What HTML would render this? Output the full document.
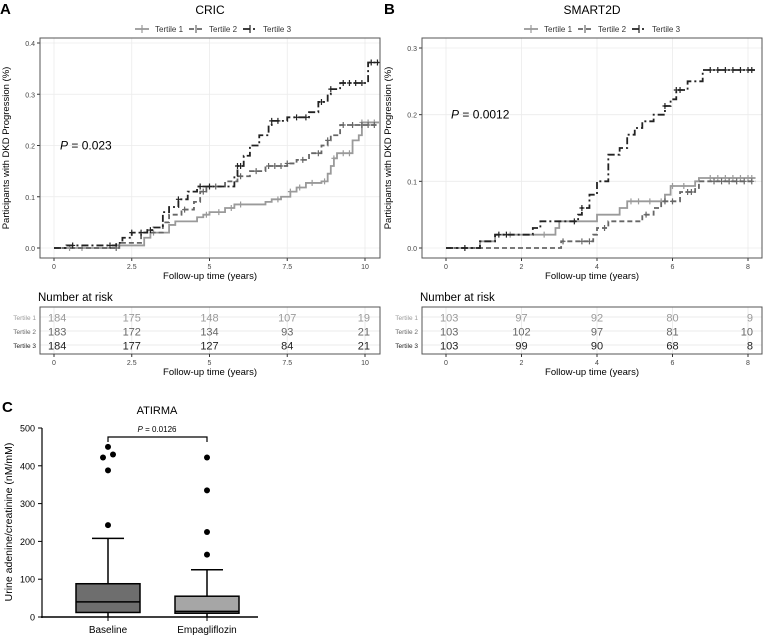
<!DOCTYPE html>
<html><head><meta charset="utf-8">
<style>
body{margin:0;background:#fff;width:768px;height:639px;overflow:hidden;font-family:"Liberation Sans",sans-serif}
svg text{font-family:"Liberation Sans",sans-serif}
</style></head>
<body>
<svg id="fig" width="768" height="639" viewBox="0 0 768 639" xmlns="http://www.w3.org/2000/svg"></svg>
<script>
// ---------- Data ----------
const cricT1x=[0,2.0,2.9,3.1,3.7,3.9,4.6,4.8,5.0,5.5,5.8,6.8,7.0,7.3,7.6,7.8,8.1,8.6,8.8,8.9,9.0,9.1,9.6,9.8,9.9,10.45];
const cricT1y=[0,0.005,0.02,0.03,0.045,0.052,0.06,0.065,0.07,0.078,0.085,0.09,0.095,0.1,0.11,0.118,0.127,0.13,0.145,0.16,0.175,0.185,0.21,0.22,0.245,0.245];
const cricT2x=[0,2.1,2.8,3.5,3.7,4.1,4.5,4.7,4.9,5.5,5.9,6.3,6.8,7.5,7.8,8.2,8.6,8.8,8.9,9.2,10.45];
const cricT2y=[0,0.01,0.03,0.05,0.065,0.075,0.09,0.11,0.12,0.13,0.14,0.15,0.16,0.165,0.172,0.185,0.2,0.21,0.22,0.24,0.24];
const cricT3x=[0,0.4,2.0,2.2,2.5,3.0,3.2,3.5,3.7,4.0,4.3,4.6,5.8,5.9,6.1,6.3,6.6,6.9,7.0,7.5,8.2,8.5,8.8,8.9,9.2,10.1,10.45];
const cricT3y=[0,0.005,0.01,0.02,0.03,0.035,0.04,0.07,0.08,0.095,0.11,0.12,0.14,0.16,0.18,0.2,0.22,0.24,0.248,0.255,0.265,0.285,0.3,0.31,0.322,0.362,0.362];
const cricCens1=[0.5,0.9,2.1,3.2,4.9,5.3,5.7,6.0,7.2,7.6,7.9,8.3,8.7,9.0,9.3,9.5,9.9,10.1,10.3];
const cricCens2=[2.0,4.2,4.8,5.2,6.0,6.5,6.9,7.1,7.3,7.5,8.0,8.5,8.8,9.3,9.6,9.9,10.1,10.3];
const cricCens3=[0.6,1.8,2.5,2.8,3.1,4.0,4.7,5.0,5.9,6.0,7.0,7.2,7.8,8.1,8.6,8.9,9.3,9.5,9.7,9.9,10.2,10.4];
const smT1x=[0,0.9,1.3,2.9,3.0,4.0,4.6,4.8,5.8,5.95,6.6,6.7,8.2];
const smT1y=[0,0.01,0.02,0.03,0.04,0.05,0.06,0.07,0.08,0.093,0.1,0.105,0.105];
const smT2x=[0,3.05,3.9,4.0,4.3,5.2,5.5,5.7,6.2,6.6,6.7,8.2];
const smT2y=[0,0.01,0.02,0.03,0.04,0.05,0.06,0.07,0.084,0.09,0.1,0.1];
const smT3x=[0,0.9,1.3,2.3,2.5,3.5,3.6,3.8,4.0,4.3,4.6,4.8,5.0,5.2,5.5,5.8,5.95,6.1,6.4,6.8,8.2];
const smT3y=[0,0.01,0.02,0.03,0.04,0.05,0.06,0.08,0.1,0.14,0.15,0.17,0.18,0.19,0.2,0.213,0.223,0.237,0.25,0.267,0.267];
const smCens1=[1.7,2.6,4.9,5.1,5.4,5.7,6.0,6.3,7.0,7.2,7.4,7.6,7.8,8.0,8.1];
const smCens2=[3.1,3.6,3.8,4.2,5.3,5.8,6.0,6.4,6.5,7.1,7.3,7.5,7.7,7.9,8.1];
const smCens3=[0.5,1.4,1.6,3.4,3.6,5.8,6.1,6.2,7.0,7.2,7.4,7.6,7.8,8.0,8.1];
const cricRisk=[[184,175,148,107,19],[183,172,134,93,21],[184,177,127,84,21]];
const smRisk=[[103,97,92,80,9],[103,102,97,81,10],[103,99,90,68,8]];
const cricTicks=[0,2.5,5,7.5,10];
const smTicks=[0,2,4,6,8];
const cricYTicks=[0,0.1,0.2,0.3,0.4];
const smYTicks=[0,0.1,0.2,0.3];
const boxCats=["Baseline","Empagliflozin"];
const boxQ1=[12,10],boxMed=[40,15],boxQ3=[88,55],boxHi=[208,125],boxLo=[0,0];
const boxOut=[[450,430,422,388,243],[422,335,225,165]];
const boxYTicks=[0,100,200,300,400,500];
const seriesNames=["Tertile 1","Tertile 2","Tertile 3"];
const colors=["#9a9a9a","#666666","#222222"];
const dashes=["","5,3","7,3,2,3"];

const svg=document.getElementById('fig');
const NS="http://www.w3.org/2000/svg";
function mk(tag,attrs,parent,txt){const e=document.createElementNS(NS,tag);for(const k in attrs)e.setAttribute(k,attrs[k]);if(txt!==undefined)e.textContent=txt;(parent||svg).appendChild(e);return e;}

function kmPanel(o){
  const g=mk('g',{});
  
  
  const X=v=>o.x0+(v-o.xmin)/(o.xmax-o.xmin)*(o.x1-o.x0);
  const Y=v=>o.y0-(v/o.ymax)*(o.y0-o.y1);
  const L=mk('text',{x:o.px-2,y:14,'font-size':15,'font-weight':'bold'},g,o.letter);
  
  const T=mk('text',{x:(o.bl+o.br)/2,y:14,'font-size':12,'text-anchor':'middle'},g,o.title);
  
  const lg=mk('g',{},g);
  let lx=o.legx;
  for(let i=0;i<3;i++){
    const le=mk('g',{},lg);
    mk('line',{x1:lx,y1:29,x2:lx+14,y2:29,stroke:colors[i],'stroke-width':1.8,'stroke-dasharray':dashes[i]},le);
    mk('line',{x1:lx+7,y1:25,x2:lx+7,y2:33,stroke:colors[i],'stroke-width':1.2},le);
    mk('text',{x:lx+20,y:32,'font-size':8,fill:'#333'},le,seriesNames[i]);
    lx+=54;
  }
  mk('rect',{x:o.bl,y:o.bt,width:o.br-o.bl,height:o.bb-o.bt,fill:'#fff'},g);
  const grid=mk('g',{stroke:'#ebebeb','stroke-width':0.8},g);
  o.xt.forEach(t=>mk('line',{x1:X(t),x2:X(t),y1:o.bt,y2:o.bb},grid));
  o.yt.forEach(t=>mk('line',{x1:o.bl,x2:o.br,y1:Y(t),y2:Y(t)},grid));
  o.yt.forEach(t=>{mk('line',{x1:o.bl-3,x2:o.bl,y1:Y(t),y2:Y(t),stroke:'#333'},g);
    const tl=mk('text',{x:o.bl-5,y:Y(t)+3,'font-size':7,'text-anchor':'end',fill:'#444'},g,t.toFixed(1));});
  o.xt.forEach(t=>{mk('line',{x1:X(t),x2:X(t),y1:o.bb,y2:o.bb+3,stroke:'#333'},g);
    const tl=mk('text',{x:X(t),y:o.bb+11,'font-size':7,'text-anchor':'middle',fill:'#444'},g,String(t));});
  const xa=mk('text',{x:(o.bl+o.br)/2,y:o.bb+21,'font-size':9.5,'text-anchor':'middle'},g,'Follow-up time (years)');
  const ya=mk('text',{x:0,y:0,'font-size':9.5,'text-anchor':'middle',transform:`translate(${o.bl-31},${(o.bt+o.bb)/2}) rotate(-90)`},g,'Participants with DKD Progression (%)');
  for(let i=0;i<3;i++){
    const xs=o.sx[i],ys=o.sy[i];let d=`M${X(xs[0])},${Y(ys[0])}`;
    for(let k=1;k<xs.length;k++){d+=` H${X(xs[k])} V${Y(ys[k])}`;}
    const p=mk('path',{d:d,fill:'none',stroke:colors[i],'stroke-width':1.8,'stroke-dasharray':dashes[i]},g);
    
    o.cens[i].forEach(c=>{let v=ys[0];for(let k=0;k<xs.length;k++){if(xs[k]<=c)v=ys[k];}
      const m=mk('path',{d:`M${X(c)-2.5},${Y(v)} h5 M${X(c)},${Y(v)-3} v6`,stroke:colors[i],'stroke-width':1.2},g);
      });
  }
  mk('rect',{x:o.bl,y:o.bt,width:o.br-o.bl,height:o.bb-o.bt,fill:'none',stroke:'#555','stroke-width':1},g);
  const pv=mk('text',{x:o.pvx,y:Y(o.pvy)+4,'font-size':12},g);
  mk('tspan',{'font-style':'italic'},pv,'P');mk('tspan',{},pv,' = '+o.pv);
  const rt=mk('g',{},g);
  mk('text',{x:o.bl-2,y:301,'font-size':11.5},rt,'Number at risk');
  const tt=307,tb=354;
  mk('rect',{x:o.bl,y:tt,width:o.br-o.bl,height:tb-tt,fill:'#fff'},rt);
  o.xt.forEach(t=>mk('line',{x1:X(t),x2:X(t),y1:tt,y2:tb,stroke:'#ebebeb'},rt));
  for(let r=0;r<3;r++){const yy=317+r*14;
    mk('line',{x1:o.bl,x2:o.br,y1:yy,y2:yy,stroke:'#ebebeb'},rt);
    mk('text',{x:o.bl-4,y:yy+3,'font-size':6.5,'text-anchor':'end',fill:colors[r]},rt,seriesNames[r]);
    o.risk[r].forEach((n,j)=>{const tx=mk('text',{x:X(o.xt[j]),y:yy+4.5,'font-size':11,'text-anchor':j==0?'start':(j==4?'end':'middle'),fill:colors[r]},rt,String(n));
      if(j==0)tx.setAttribute('x',X(o.xt[j])-6);if(j==4)tx.setAttribute('x',X(o.xt[j])+5);});
  }
  mk('rect',{x:o.bl,y:tt,width:o.br-o.bl,height:tb-tt,fill:'none',stroke:'#555','stroke-width':1},rt);
  o.xt.forEach(t=>{mk('line',{x1:X(t),x2:X(t),y1:tb,y2:tb+3,stroke:'#333'},rt);
    mk('text',{x:X(t),y:tb+11,'font-size':7,'text-anchor':'middle',fill:'#444'},rt,String(t));});
  mk('text',{x:(o.bl+o.br)/2,y:tb+21,'font-size':9.5,'text-anchor':'middle'},rt,'Follow-up time (years)');
}

kmPanel({name:'panel-a-cric',letter:'A',title:'CRIC',px:2,bl:40,br:380,bt:38,bb:258,x0:54,x1:365,xmin:0,xmax:10,y0:248,y1:43,ymax:0.4,
  xt:cricTicks,yt:cricYTicks,sx:[cricT1x,cricT2x,cricT3x],sy:[cricT1y,cricT2y,cricT3y],cens:[cricCens1,cricCens2,cricCens3],
  legx:135,pvx:60,pvy:0.2,pv:'0.023',risk:cricRisk});
kmPanel({name:'panel-b-smart2d',letter:'B',title:'SMART2D',px:386,bl:422,br:762,bt:38,bb:258,x0:446,x1:748,xmin:0,xmax:8,y0:248,y1:48,ymax:0.3,
  xt:smTicks,yt:smYTicks,sx:[smT1x,smT2x,smT3x],sy:[smT1y,smT2y,smT3y],cens:[smCens1,smCens2,smCens3],
  legx:524,pvx:451,pvy:0.2,pv:'0.0012',risk:smRisk});

(function(){
  const g=mk('g',{});
  const Y=v=>617-v/500*(617-428);
  const cx=[108,207],hw=32;
  mk('text',{x:2,y:412,'font-size':15,'font-weight':'bold'},g,'C');
  const t=mk('text',{x:157,y:414,'font-size':11,'text-anchor':'middle'},g,'ATIRMA');
  mk('line',{x1:42,x2:42,y1:428,y2:618,stroke:'#000','stroke-width':1.2},g);
  mk('line',{x1:41,x2:258,y1:617,y2:617,stroke:'#000','stroke-width':1.5},g);
  boxYTicks.forEach(v=>{mk('line',{x1:38,x2:42,y1:Y(v),y2:Y(v),stroke:'#000'},g);
    const l=mk('text',{x:35,y:Y(v)+3.5,'font-size':9,'text-anchor':'end'},g,String(v));});
  const ya=mk('text',{x:0,y:0,'font-size':10.5,'text-anchor':'middle',transform:'translate(12,522) rotate(-90)'},g,'Urine adenine/creatinine (nM/mM)');
  const fills=['#6e6e6e','#a6a6a6'];
  for(let i=0;i<2;i++){
    const b=mk('g',{},g);
    mk('line',{x1:cx[i],x2:cx[i],y1:Y(boxHi[i]),y2:Y(boxLo[i]),stroke:'#000','stroke-width':1.5},b);
    mk('line',{x1:cx[i]-16,x2:cx[i]+16,y1:Y(boxHi[i]),y2:Y(boxHi[i]),stroke:'#000','stroke-width':1.5},b);
    mk('rect',{x:cx[i]-hw,y:Y(boxQ3[i]),width:2*hw,height:Y(boxQ1[i])-Y(boxQ3[i]),fill:fills[i],stroke:'#000','stroke-width':1.5},b);
    mk('line',{x1:cx[i]-hw,x2:cx[i]+hw,y1:Y(boxMed[i]),y2:Y(boxMed[i]),stroke:'#000','stroke-width':1.5},b);
    const offs=i==0?[0,5,-5,0,0]:[0,0,0,0];
    boxOut[i].forEach((v,k)=>{const c=mk('circle',{cx:cx[i]+offs[k],cy:Y(v),r:3,fill:'#000'},b);});
    const l=mk('text',{x:cx[i],y:633,'font-size':10,'text-anchor':'middle'},b,boxCats[i]);
    mk('line',{x1:cx[i],x2:cx[i],y1:617,y2:621,stroke:'#000'},b);
  }
  const br=mk('path',{d:'M108,442 V437 H207 V442',fill:'none',stroke:'#000','stroke-width':1.2},g);
  const p=mk('text',{x:157,y:432,'font-size':8,'text-anchor':'middle'},g);
  mk('tspan',{'font-style':'italic'},p,'P');mk('tspan',{},p,' = 0.0126');
})();
</script>
</body></html>
